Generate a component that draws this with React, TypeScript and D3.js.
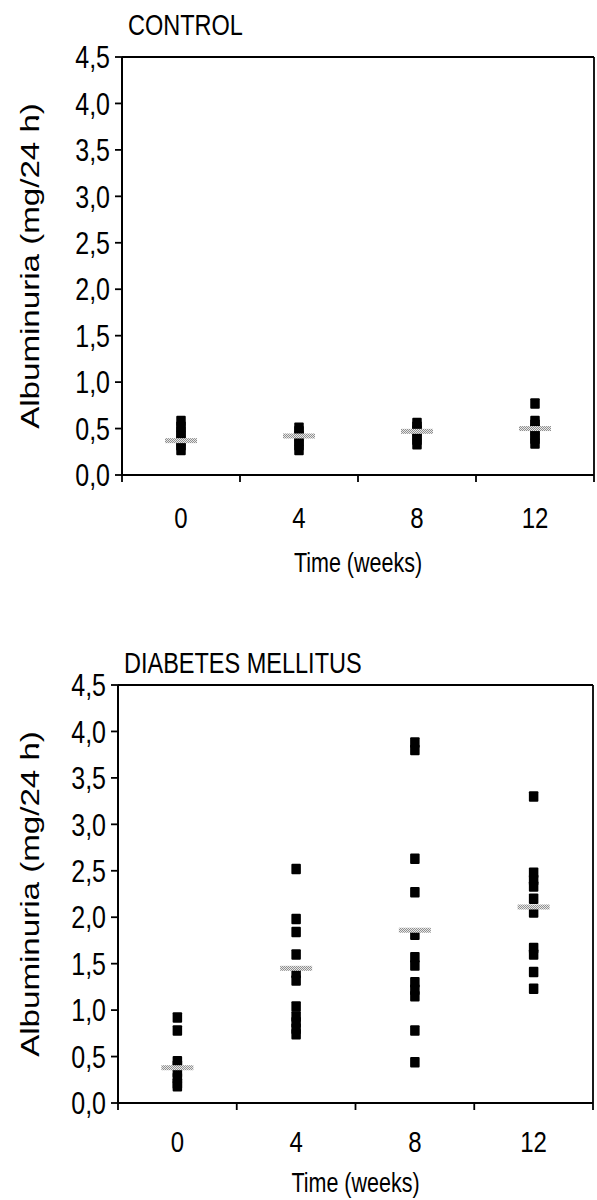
import React from "react";
import * as d3 from "d3";

// time points (weeks)
const weeks = ["0", "4", "8", "12"];
const yTicks = [0, 0.5, 1, 1.5, 2, 2.5, 3, 3.5, 4, 4.5];

// individual albuminuria values (mg/24 h)
const control0 = [0.27, 0.32, 0.37, 0.42, 0.47, 0.52, 0.58];
const control4 = [0.27, 0.32, 0.37, 0.42, 0.47, 0.51];
const control8 = [0.33, 0.38, 0.43, 0.48, 0.52, 0.56];
const control12 = [0.34, 0.39, 0.44, 0.49, 0.54, 0.58, 0.77];
const controlMeans = [0.37, 0.42, 0.47, 0.5];

const diabetes0 = [0.92, 0.78, 0.45, 0.4, 0.33, 0.27, 0.21, 0.18];
const diabetes4 = [2.52, 1.98, 1.84, 1.6, 1.4, 1.32, 1.04, 0.93, 0.87, 0.8, 0.74];
const diabetes8 = [3.88, 3.8, 2.63, 2.27, 1.81, 1.57, 1.48, 1.3, 1.22, 1.15, 0.78, 0.44];
const diabetes12 = [3.3, 2.48, 2.4, 2.33, 2.2, 2.05, 1.67, 1.6, 1.41, 1.23];
const diabetesMeans = [0.38, 1.45, 1.86, 2.11];

const font = "'Liberation Sans', Arial, sans-serif";
// the scanned figure is stretched vertically, text included
const stretch = 1.25;

type PanelProps = {
  title: string;
  groups: number[][];
  means: number[];
  left: number;
  right: number;
  top: number;
  bottom: number;
  tickLabelY: number;
  axisTitleY: number;
  titleY: number;
  id: string;
};

const Panel = (props: PanelProps) => {
  const { title, groups, means, left, right, top, bottom, tickLabelY, axisTitleY, titleY, id } = props;

  const x = d3.scaleBand().domain(weeks).range([left, right]).padding(0);
  const y = d3.scaleLinear().domain([0, 4.5]).range([bottom, top]);
  const fmt = (v: number) => d3.format(".1f")(v).replace(".", ",");
  const boundaries = weeks.map((w) => x(w) as number).concat([right]);
  const sqW = 9.5;
  const sqH = 10.5;

  return (
    <g>
      <defs>
        <pattern id={id} width="2" height="2" patternUnits="userSpaceOnUse">
          <rect width="2" height="2" fill="#e8e8e8" />
          <rect width="1" height="1" fill="#8f8f8f" />
          <rect x="1" y="1" width="1" height="1" fill="#8f8f8f" />
        </pattern>
      </defs>

      <g transform={`translate(${left + 6}, ${titleY}) scale(1, ${stretch})`}>
        <text fontFamily={font} fontSize={23.5}>
          {title}
        </text>
      </g>

      {/* frame */}
      <line x1={left} x2={right} y1={top} y2={top} stroke="#000" strokeWidth={1.8} />
      <line x1={right} x2={right} y1={top} y2={bottom} stroke="#000" strokeWidth={1.8} />
      <line x1={left} x2={left} y1={top} y2={bottom} stroke="#000" strokeWidth={2} />
      <line x1={left} x2={right} y1={bottom} y2={bottom} stroke="#000" strokeWidth={2} />

      {yTicks.map((t) => (
        <g key={t}>
          <line x1={left - 7} x2={left} y1={y(t)} y2={y(t)} stroke="#000" strokeWidth={1.8} />
          <g transform={`translate(${left - 12}, ${y(t)}) scale(1, ${stretch})`}>
            <text dy="0.36em" textAnchor="end" fontFamily={font} fontSize={25}>
              {fmt(t)}
            </text>
          </g>
        </g>
      ))}

      {boundaries.map((b, i) => (
        <line key={i} x1={b} x2={b} y1={bottom} y2={bottom + 7} stroke="#000" strokeWidth={1.8} />
      ))}

      {weeks.map((w) => (
        <g
          key={w}
          transform={`translate(${(x(w) as number) + x.bandwidth() / 2}, ${tickLabelY}) scale(1, ${stretch})`}
        >
          <text textAnchor="middle" fontFamily={font} fontSize={24}>
            {w}
          </text>
        </g>
      ))}

      <g transform={`translate(${(left + right) / 2}, ${axisTitleY}) scale(1, ${stretch})`}>
        <text textAnchor="middle" fontFamily={font} fontSize={21.5}>
          Time (weeks)
        </text>
      </g>

      <g transform={`translate(30, ${(top + bottom) / 2}) scale(1, ${stretch}) rotate(-90)`}>
        <text textAnchor="middle" dy="0.35em" fontFamily={font} fontSize={26.5}>
          Albuminuria (mg/24 h)
        </text>
      </g>
      <circle cx={37} cy={top + 62} r={1.2} fill="#000" />

      {groups.map((vals, i) =>
        vals.map((v, j) => (
          <rect
            key={`${i}-${j}`}
            x={(x(weeks[i]) as number) + x.bandwidth() / 2 - sqW / 2}
            y={y(v) - sqH / 2}
            width={sqW}
            height={sqH}
            rx={1}
            fill="#000"
          />
        ))
      )}

      {means.map((m, i) => (
        <rect
          key={`m${i}`}
          x={(x(weeks[i]) as number) + x.bandwidth() / 2 - 16}
          y={y(m) - 2.5}
          width={32}
          height={5}
          fill={`url(#${id})`}
        />
      ))}
    </g>
  );
};

const App = () => {
  return (
    <svg
      width={597}
      height={1200}
      style={{ position: "absolute", left: 0, top: 0, background: "#fff" }}
    >
      <rect width={597} height={1200} fill="#fff" />
      <Panel
        id="pc"
        title="CONTROL"
        groups={[control0, control4, control8, control12]}
        means={controlMeans}
        left={122}
        right={594}
        top={57}
        bottom={475}
        titleY={35}
        tickLabelY={528}
        axisTitleY={572}
      />
      <Panel
        id="pd"
        title="DIABETES MELLITUS"
        groups={[diabetes0, diabetes4, diabetes8, diabetes12]}
        means={diabetesMeans}
        left={118}
        right={593}
        top={685}
        bottom={1103}
        titleY={673}
        tickLabelY={1152}
        axisTitleY={1192}
      />
    </svg>
  );
};

export default App;
